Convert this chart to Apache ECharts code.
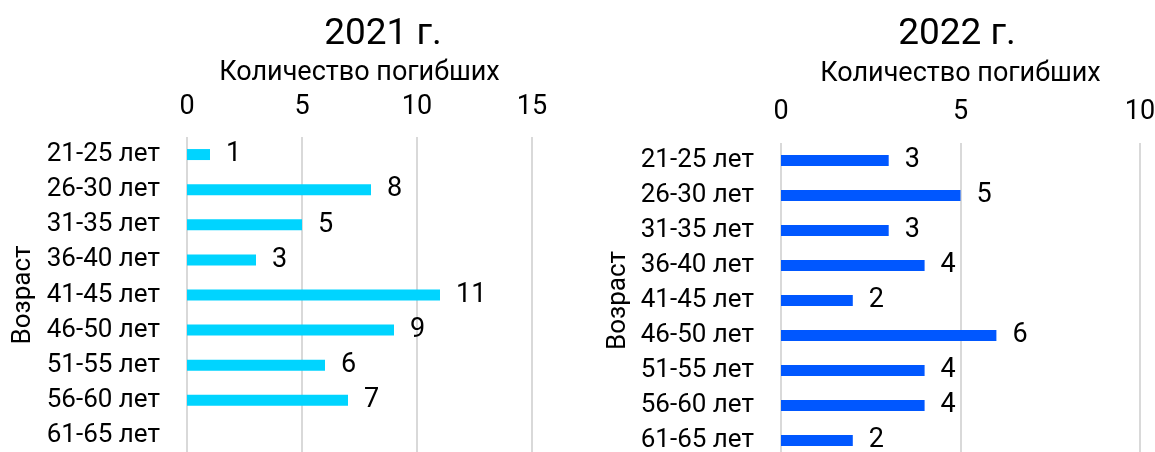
<!DOCTYPE html>
<html><head><meta charset="utf-8">
<script src="https://cdn.jsdelivr.net/npm/echarts@6/dist/echarts.min.js"></script>
<style>html,body{margin:0;padding:0;background:#fff}#c{width:1155px;height:452px}</style>
</head><body><div id="c"></div>
<script>
const categories = ['21-25 лет','26-30 лет','31-35 лет','36-40 лет','41-45 лет','46-50 лет','51-55 лет','56-60 лет','61-65 лет'];
const values2021 = [1, 8, 5, 3, 11, 9, 6, 7, null];
const values2022 = [3, 5, 3, 4, 2, 6, 4, 4, 2];
const titles = ['2021 г.', '2022 г.'];
const xName = 'Количество погибших';
const yName = 'Возраст';

const FONT = 'Roboto';
const txt = {color:'#000', fontFamily:FONT, fontSize:27};
const chart = echarts.init(document.getElementById('c'), null, {renderer:'canvas'});

function xAxis(gi, max, gap, margin){
  return {gridIndex:gi, type:'value', position:'top', min:0, max:max, interval:5,
    name:xName, nameLocation:'middle', nameGap:gap, nameMoveOverlap:false,
    nameTextStyle:Object.assign({}, txt, {fontSize:27}),
    axisLine:{show:false}, axisTick:{show:false},
    axisLabel:Object.assign({margin:margin}, txt),
    splitLine:{show:true, lineStyle:{color:'#d9d9d9', width:2}}};
}
function yAxis(gi, gap){
  return {gridIndex:gi, type:'category', inverse:true, data:categories,
    name:yName, nameLocation:'middle', nameGap:gap, nameRotate:90, nameMoveOverlap:false,
    nameTextStyle:Object.assign({}, txt, {fontSize:26}),
    axisLine:{show:false}, axisTick:{show:false},
    axisLabel:Object.assign({margin:27, interval:0, hideOverlap:false}, txt, {fontSize:26})};
}
function series(gi, data, color){
  return {type:'bar', xAxisIndex:gi, yAxisIndex:gi, data:data, barWidth:11,
    itemStyle:{color:color},
    label:{show:true, position:'right', distance:16, color:'#000', fontFamily:FONT, fontSize:27}};
}

chart.setOption({
  animation:false,
  title:[
    {text:titles[0], left:378, top:11, textAlign:'center', textStyle:{color:'#000', fontFamily:FONT, fontSize:37, fontWeight:'normal'}},
    {text:titles[1], left:952, top:11, textAlign:'center', textStyle:{color:'#000', fontFamily:FONT, fontSize:37, fontWeight:'normal'}}
  ],
  grid:[
    {left:187, top:137, width:345, height:316, outerBoundsMode:'none', containLabel:false},
    {left:781, top:143, width:359, height:315, outerBoundsMode:'none', containLabel:false}
  ],
  xAxis:[xAxis(0, 15, 50, 16), xAxis(1, 10, 55, 17)],
  yAxis:[yAxis(0, 151), yAxis(1, 150)],
  series:[series(0, values2021, '#00d4ff'), series(1, values2022, '#0057ff')]
});
</script></body></html>
